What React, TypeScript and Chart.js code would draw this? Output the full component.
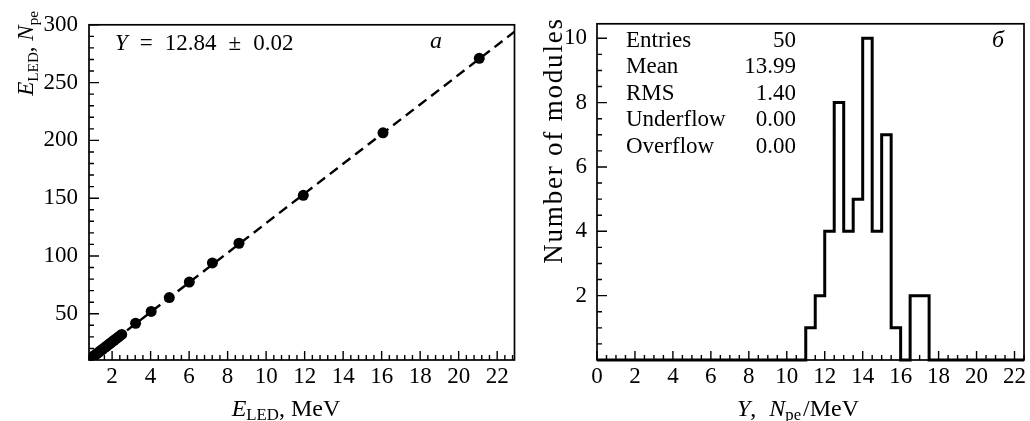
import React, { useEffect, useRef } from 'react';
import { Chart, registerables } from 'chart.js';

Chart.register(...registerables);

const FONT = '"Liberation Serif", "Times New Roman", serif';
const INK = '#000000';

// ---------- Panel a: LED energy vs number of photoelectrons ----------
const ledEnergyMeV = [1.0, 1.1, 1.2, 1.3, 1.4, 1.5, 1.6, 1.7, 1.8, 1.9, 2.0, 2.1, 2.2, 2.3, 2.4, 2.5, 3.22, 4.03, 4.97, 6.01, 7.21, 8.59, 11.93, 16.07, 21.07];
const ledNpe = [13.0, 14.2, 15.4, 16.7, 18.0, 19.3, 20.5, 21.8, 23.1, 24.4, 25.7, 27.0, 28.2, 29.5, 30.8, 32.1, 41.8, 52.0, 64.0, 77.4, 94.0, 111.0, 152.5, 206.5, 271.0];
const fitLineX = [0.8, 22.9];
const fitLineY = [10.3, 294.0];
const xTicksA = [2, 4, 6, 8, 10, 12, 14, 16, 18, 20, 22];
const yTicksA = [50, 100, 150, 200, 250, 300];

// ---------- Panel b: histogram of light yield ----------
const binLow = 0;
const binWidth = 0.5;
const moduleCounts = [
  0, 0, 0, 0, 0, 0, 0, 0, 0, 0, 0, 0, 0, 0, 0, 0, 0, 0, 0, 0, 0, 0,
  1, 2, 4, 8, 4, 5, 10, 4, 7, 1, 0, 2, 2,
  0, 0, 0, 0, 0, 0, 0, 0, 0, 0,
];
const xTicksB = [0, 2, 4, 6, 8, 10, 12, 14, 16, 18, 20, 22];
const yTicksB = [2, 4, 6, 8, 10];
const statsLabels = ['Entries', 'Mean', 'RMS', 'Underflow', 'Overflow'];
const statsValues = ['50', '13.99', '1.40', '0.00', '0.00'];

type Part = { t?: string; it?: boolean; sub?: boolean; gap?: number };

function drawRich(
  ctx: CanvasRenderingContext2D,
  parts: Part[],
  x: number,
  y: number,
  size: number,
  align: 'left' | 'center' | 'right',
  rotate = false,
  subScale = 0.7,
  subDrop = 0.18,
  spacing = 0,
) {
  ctx.save();
  (ctx as any).letterSpacing = `${spacing}px`;
  const fontOf = (p: Part) => `${p.it ? 'italic ' : ''}${p.sub ? size * subScale : size}px ${FONT}`;
  const widths = parts.map((p) => {
    if (p.gap !== undefined) return p.gap;
    ctx.font = fontOf(p);
    return ctx.measureText(p.t || '').width;
  });
  const total = widths.reduce((a, b) => a + b, 0) - spacing;
  ctx.translate(x, y);
  if (rotate) ctx.rotate(-Math.PI / 2);
  let cx = align === 'left' ? 0 : align === 'center' ? -total / 2 : -total;
  ctx.textAlign = 'left';
  ctx.textBaseline = 'alphabetic';
  ctx.fillStyle = INK;
  parts.forEach((p, i) => {
    if (p.t) {
      ctx.font = fontOf(p);
      ctx.fillText(p.t, cx, p.sub ? size * subDrop : 0);
    }
    cx += widths[i];
  });
  ctx.restore();
}

function range(from: number, to: number, step: number) {
  const out: number[] = [];
  for (let v = from; v <= to + 1e-9; v += step) out.push(Math.round(v * 1000) / 1000);
  return out;
}

function frameAndTicks(xMajor: number[], xMinor: number[], yMajor: number[], yMinor: number[]) {
  return {
    id: 'frameAndTicks',
    afterDatasetsDraw(chart: any) {
      const { ctx, chartArea: a, scales } = chart;
      const xs = scales.x;
      const ys = scales.y;
      ctx.save();
      ctx.strokeStyle = INK;
      ctx.lineWidth = 1.4;
      ctx.beginPath();
      const tick = (vals: number[], len: number, horiz: boolean) => {
        vals.forEach((v) => {
          if (horiz) {
            const p = xs.getPixelForValue(v);
            if (p < a.left - 0.5 || p > a.right + 0.5) return;
            ctx.moveTo(p, a.bottom);
            ctx.lineTo(p, a.bottom - len);
          } else {
            const p = ys.getPixelForValue(v);
            if (p < a.top - 0.5 || p > a.bottom + 0.5) return;
            ctx.moveTo(a.left, p);
            ctx.lineTo(a.left + len, p);
          }
        });
      };
      tick(xMinor, 5, true);
      tick(xMajor, 9, true);
      tick(yMinor, 5, false);
      tick(yMajor, 10, false);
      ctx.stroke();
      ctx.lineWidth = 1.7;
      ctx.strokeRect(a.left, a.top, a.right - a.left, a.bottom - a.top);
      ctx.restore();
    },
  };
}

const tickFont = { family: FONT, size: 23 };

export default function App() {
  const refA = useRef<HTMLCanvasElement>(null);
  const refB = useRef<HTMLCanvasElement>(null);

  useEffect(() => {
    const points = ledEnergyMeV.map((x, i) => ({ x, y: ledNpe[i] }));
    const fit = fitLineX.map((x, i) => ({ x, y: fitLineY[i] }));

    const textA = {
      id: 'textA',
      afterDraw(chart: any) {
        const ctx = chart.ctx as CanvasRenderingContext2D;
        drawRich(ctx, [{ t: 'Y', it: true }, { gap: 12 }, { t: '=' }, { gap: 12 }, { t: '12.84' }, { gap: 12 }, { t: '±' }, { gap: 12 }, { t: '0.02' }], 115, 50, 23, 'left');
        drawRich(ctx, [{ t: 'a', it: true }], 436, 48, 24, 'center');
        drawRich(ctx, [{ t: 'E', it: true }, { t: 'LED', sub: true }, { t: ', MeV' }], 286, 416, 24, 'center');
        drawRich(ctx, [{ t: 'E', it: true }, { t: 'LED', sub: true }, { t: ', ' }, { t: 'N', it: true }, { t: 'pe', sub: true }], 33, 11, 23, 'right', true, 0.66, 0.2);
      },
    };

    const chartA = new Chart(refA.current!, {
      type: 'scatter',
      data: {
        datasets: [
          {
            data: points,
            pointRadius: 5.5,
            pointHoverRadius: 5.5,
            pointBackgroundColor: INK,
            pointBorderColor: INK,
            pointBorderWidth: 0,
          },
          {
            data: fit,
            showLine: true,
            borderColor: INK,
            borderWidth: 2.4,
            borderDash: [10, 6],
            pointRadius: 0,
            fill: false,
          } as any,
        ],
      },
      options: {
        animation: false,
        responsive: false,
        events: [],
        layout: { padding: { left: 0, right: 5, top: 18, bottom: 0 } },
        plugins: { legend: { display: false }, tooltip: { enabled: false }, title: { display: false } },
        scales: {
          x: {
            type: 'linear',
            min: 0.8,
            max: 22.9,
            grid: { display: false, drawTicks: false },
            border: { display: false },
            afterBuildTicks: (s: any) => { s.ticks = xTicksA.map((v) => ({ value: v })); },
            afterFit: (s: any) => { s.height = 61; },
            ticks: { font: tickFont, color: INK, padding: 3, maxRotation: 0, autoSkip: false },
          },
          y: {
            type: 'linear',
            min: 10,
            max: 300,
            grid: { display: false, drawTicks: false },
            border: { display: false },
            afterBuildTicks: (s: any) => { s.ticks = yTicksA.map((v) => ({ value: v })); },
            afterFit: (s: any) => { s.width = 89; },
            ticks: { font: tickFont, color: INK, padding: 11, autoSkip: false },
          },
        },
      },
      plugins: [frameAndTicks(xTicksA, range(0.8, 22.8, 0.4), yTicksA, range(10, 300, 10)), textA],
    });

    const histPoints = moduleCounts.map((c, i) => ({ x: binLow + i * binWidth, y: c }));
    histPoints.push({ x: binLow + moduleCounts.length * binWidth, y: 0 });

    const textB = {
      id: 'textB',
      afterDraw(chart: any) {
        const ctx = chart.ctx as CanvasRenderingContext2D;
        statsLabels.forEach((l, i) => {
          const base = 47 + i * 26.4;
          drawRich(ctx, [{ t: l }], 106, base, 23, 'left');
          drawRich(ctx, [{ t: statsValues[i] }], 276, base, 23, 'right');
        });
        drawRich(ctx, [{ t: 'б', it: true }], 478, 47, 24, 'center');
        drawRich(ctx, [{ t: 'Y', it: true }, { t: ',' }, { gap: 13 }, { t: 'N', it: true }, { t: 'pe', sub: true }, { gap: 2 }, { t: '/MeV' }], 278, 416, 24, 'center');
        drawRich(ctx, [{ t: 'Number of modules' }], 42, 19, 27, 'right', true, 0.7, 0.18, 1.8);
      },
    };

    const chartB = new Chart(refB.current!, {
      type: 'line',
      data: {
        datasets: [
          {
            data: histPoints,
            stepped: true,
            borderColor: INK,
            borderWidth: 3,
            pointRadius: 0,
            fill: false,
            clip: 4,
          } as any,
        ],
      },
      options: {
        animation: false,
        responsive: false,
        events: [],
        layout: { padding: { left: 0, right: 6, top: 19, bottom: 0 } },
        plugins: { legend: { display: false }, tooltip: { enabled: false }, title: { display: false } },
        scales: {
          x: {
            type: 'linear',
            min: 0,
            max: 22.5,
            grid: { display: false, drawTicks: false },
            border: { display: false },
            afterBuildTicks: (s: any) => { s.ticks = xTicksB.map((v) => ({ value: v })); },
            afterFit: (s: any) => { s.height = 61; },
            ticks: { font: tickFont, color: INK, padding: 3, maxRotation: 0, autoSkip: false },
          },
          y: {
            type: 'linear',
            min: 0,
            max: 10.45,
            grid: { display: false, drawTicks: false },
            border: { display: false },
            afterBuildTicks: (s: any) => { s.ticks = yTicksB.map((v) => ({ value: v })); },
            afterFit: (s: any) => { s.width = 77; },
            ticks: { font: tickFont, color: INK, padding: 10, autoSkip: false },
          },
        },
      },
      plugins: [frameAndTicks(xTicksB, range(0, 22.5, 0.5), yTicksB, range(0, 10, 0.5)), textB],
    });

    return () => {
      chartA.destroy();
      chartB.destroy();
    };
  }, []);

  return (
    <div style={{ position: 'absolute', left: 0, top: 0, width: 1030, height: 421, background: '#fff' }}>
      <canvas ref={refA} width={520} height={421} style={{ position: 'absolute', left: 0, top: 0 }} />
      <canvas ref={refB} width={510} height={421} style={{ position: 'absolute', left: 520, top: 0 }} />
    </div>
  );
}
